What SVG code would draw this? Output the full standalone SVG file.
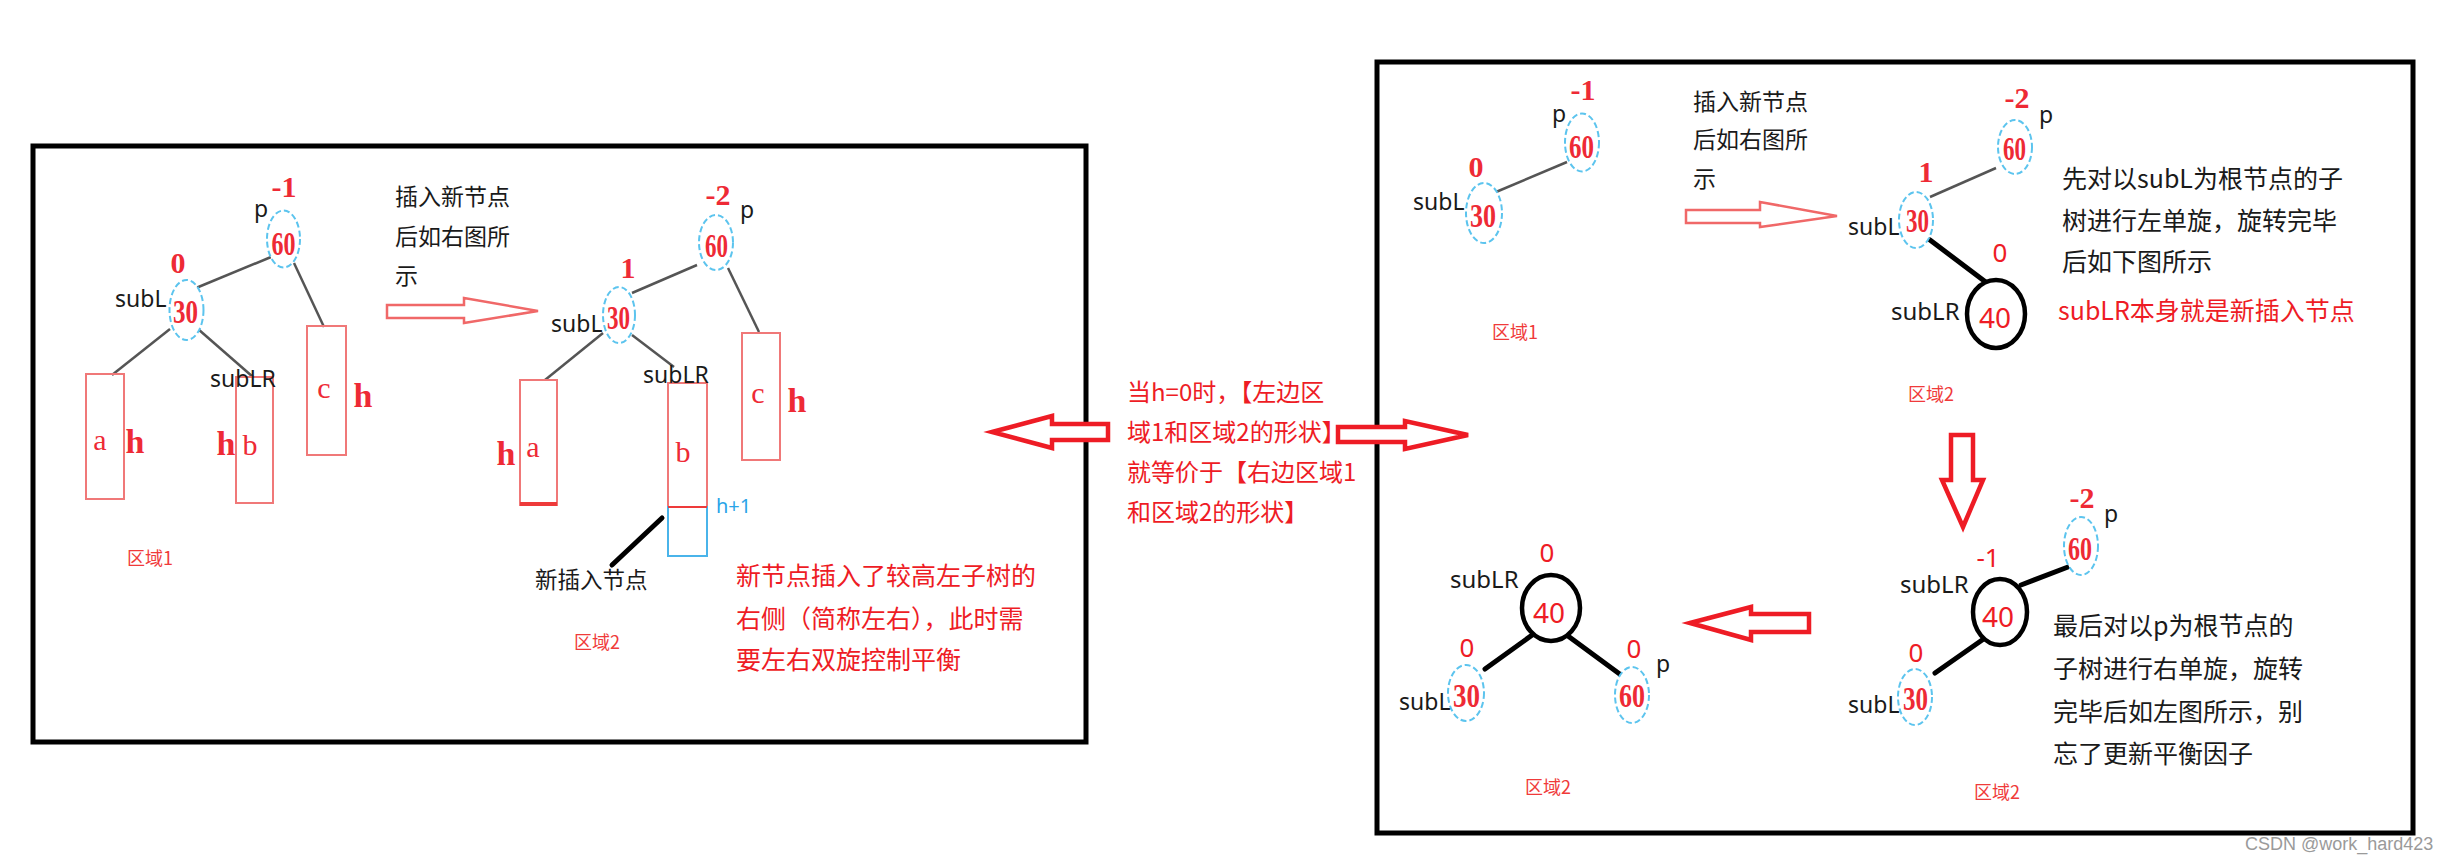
<svg xmlns="http://www.w3.org/2000/svg" width="2439" height="863" viewBox="0 0 2439 863">
<defs>
<style>
.frame{fill:none;stroke:#000;stroke-width:5}
.dash{fill:#fff;stroke:#5cc4ee;stroke-width:2;stroke-dasharray:6 3}
.ring{fill:#fff;stroke:#000;stroke-width:4.5}
.key{font-family:"Liberation Serif",serif;fill:#ee2a35;font-size:34px;font-weight:bold;text-anchor:middle}
.bf{font-family:"Liberation Serif",serif;fill:#ee2a35;font-size:30px;font-weight:bold;text-anchor:middle}
.bfs{font-family:"Noto Sans","Liberation Sans",sans-serif;fill:#ee1c25;font-size:26px;text-anchor:middle}
.k40{font-family:"Noto Sans","Liberation Sans",sans-serif;fill:#ee1c25;font-size:28px;text-anchor:middle}
.lab{font-family:"Noto Sans","Liberation Sans",sans-serif;fill:#1a1a1a;font-size:23px}
.lab2{font-family:"Noto Sans","Liberation Sans",sans-serif;fill:#1a1a1a;font-size:24px}
.let{font-family:"Liberation Serif",serif;fill:#ee2a35;font-size:30px;text-anchor:middle}
.hh{font-family:"Liberation Serif",serif;fill:#ee2a35;font-size:34px;font-weight:bold;text-anchor:middle}
.cn{font-family:"Noto Sans CJK SC",sans-serif;fill:#1a1a1a}
.cr{font-family:"Noto Sans CJK SC",sans-serif;fill:#ee1c25}
.area{font-family:"Noto Sans CJK SC",sans-serif;fill:#f03a3a;font-size:18px}
.box{fill:none;stroke:#f07878;stroke-width:2}
.gl{stroke:#555;stroke-width:2.5;fill:none}
.bl{stroke:#000;stroke-width:5;fill:none;stroke-linecap:round}
.harr{fill:#fff;stroke:#f06868;stroke-width:2.5}
.barr{fill:#fff;stroke:#ee1c25;stroke-width:4.5;stroke-linejoin:miter}
</style>
</defs>
<rect width="2439" height="863" fill="#fff"/>

<!-- frames -->
<rect class="frame" x="33" y="146" width="1053" height="596"/>
<rect class="frame" x="1377" y="62" width="1036" height="771"/>

<!-- connectors -->
<g id="connectors">
  <line class="gl" x1="196" y1="288" x2="271" y2="257"/>
  <line class="gl" x1="294" y1="263" x2="324" y2="327"/>
  <line class="gl" x1="170" y1="329" x2="112" y2="375"/>
  <line class="gl" x1="198" y1="329" x2="253" y2="377"/>
  <line class="gl" x1="632" y1="293" x2="697" y2="265"/>
  <line class="gl" x1="728" y1="268" x2="759" y2="332"/>
  <line class="gl" x1="603" y1="333" x2="545" y2="380"/>
  <line class="gl" x1="632" y1="335" x2="674" y2="367"/>
  <line class="bl" x1="662" y1="518" x2="612" y2="565"/>
  <line class="gl" x1="1496" y1="192" x2="1567" y2="162"/>
  <line class="gl" x1="1930" y1="197" x2="1996" y2="168"/>
  <line class="bl" x1="1930" y1="240" x2="1987" y2="283"/>
  <line class="bl" x1="2021" y1="585" x2="2068" y2="567"/>
  <line class="bl" x1="1985" y1="638" x2="1935" y2="673"/>
  <line class="bl" x1="1535" y1="633" x2="1485" y2="669"/>
  <line class="bl" x1="1568" y1="636" x2="1621" y2="675"/>
</g>

<!-- ===== left panel, region 1 ===== -->
<g id="l1-p">
  <ellipse class="dash" cx="283.5" cy="239" rx="16.5" ry="28.5"/>
  <text class="key" x="283.5" y="255" textLength="24" lengthAdjust="spacingAndGlyphs">60</text>
  <text class="bf" x="284" y="197">-1</text>
  <text class="lab" x="254" y="217">p</text>
</g>
<g id="l1-subL">
  <ellipse class="dash" cx="186.5" cy="310" rx="17" ry="30"/>
  <text class="key" x="185.5" y="323" textLength="25" lengthAdjust="spacingAndGlyphs">30</text>
  <text class="bf" x="178" y="273">0</text>
  <text class="lab" x="115" y="307">subL</text>
</g>
<g id="l1-a">
  <rect class="box" x="86" y="374" width="38" height="125"/>
  <text class="let" x="100" y="450">a</text>
  <text class="hh" x="135" y="453">h</text>
</g>
<g id="l1-b">
  <rect class="box" x="236" y="377" width="37" height="126"/>
  <text class="let" x="250" y="455">b</text>
  <text class="hh" x="226" y="455">h</text>
  <text class="lab" x="210" y="387">subLR</text>
</g>
<g id="l1-c">
  <rect class="box" x="307" y="326" width="39" height="129"/>
  <text class="let" x="324" y="398">c</text>
  <text class="hh" x="363" y="407">h</text>
</g>
<text class="area" x="127" y="565">区域1</text>

<g id="l-note1">
  <text class="cn" font-size="23" x="395" y="205">插入新节点</text>
  <text class="cn" font-size="23" x="395" y="245">后如右图所</text>
  <text class="cn" font-size="23" x="395" y="284">示</text>
  <path class="harr" d="M387,305 L464,305 L464,298 L538,311 L464,323 L464,318 L387,318 Z"/>
</g>

<!-- ===== left panel, region 2 ===== -->
<g id="l2-p">
  <ellipse class="dash" cx="716" cy="242.5" rx="17" ry="27.5"/>
  <text class="key" x="716.5" y="257" textLength="23" lengthAdjust="spacingAndGlyphs">60</text>
  <text class="bf" x="718" y="205">-2</text>
  <text class="lab" x="740" y="218">p</text>
</g>
<g id="l2-subL">
  <ellipse class="dash" cx="619" cy="315" rx="16" ry="28"/>
  <text class="key" x="618.5" y="329" textLength="23" lengthAdjust="spacingAndGlyphs">30</text>
  <text class="bf" x="628" y="278">1</text>
  <text class="lab" x="551" y="332">subL</text>
</g>
<g id="l2-a">
  <rect class="box" x="520" y="380" width="37" height="125"/>
  <line x1="520" y1="504" x2="557" y2="504" stroke="#ee3a3a" stroke-width="4"/>
  <text class="let" x="533" y="457">a</text>
  <text class="hh" x="506" y="465">h</text>
</g>
<g id="l2-b">
  <rect class="box" x="668" y="383" width="39" height="124"/>
  <rect x="668" y="507" width="39" height="49" fill="none" stroke="#4ab4ea" stroke-width="2"/>
  <line x1="668" y1="507" x2="707" y2="507" stroke="#ee3a3a" stroke-width="2"/>
  <text class="let" x="683" y="462">b</text>
  <text class="lab" x="643" y="383">subLR</text>
  <text x="716" y="513" font-family="Noto Sans, Liberation Sans, sans-serif" font-size="20" fill="#2aa4e8">h+1</text>
</g>
<g id="l2-c">
  <rect class="box" x="742" y="333" width="38" height="127"/>
  <text class="let" x="758" y="403">c</text>
  <text class="hh" x="797" y="412">h</text>
</g>
<text class="cn" font-size="22.5" x="535" y="588">新插入节点</text>
<text class="area" x="574" y="649">区域2</text>
<g id="l-note2">
  <text class="cr" font-size="25" x="736" y="585">新节点插入了较高左子树的</text>
  <text class="cr" font-size="25" x="736" y="628">右侧（简称左右），此时需</text>
  <text class="cr" font-size="25" x="736" y="669">要左右双旋控制平衡</text>
</g>

<!-- ===== middle ===== -->
<g id="mid-note">
  <text class="cr" font-size="24" x="1127" y="401">当h=0时，【左边区</text>
  <text class="cr" font-size="24" x="1127" y="441">域1和区域2的形状】</text>
  <text class="cr" font-size="24" x="1127" y="481">就等价于【右边区域1</text>
  <text class="cr" font-size="24" x="1127" y="521">和区域2的形状】</text>
</g>
<path id="arrow-left" class="barr" d="M992,432 L1052,416 L1052,424 L1108,424 L1108,440 L1052,440 L1052,448 Z"/>
<path id="arrow-right" class="barr" d="M1338,427 L1405,427 L1405,421 L1468,435 L1405,449 L1405,442 L1338,442 Z"/>

<!-- ===== right panel, region 1 ===== -->
<g id="r1-p">
  <ellipse class="dash" cx="1582" cy="142.5" rx="17" ry="29"/>
  <text class="key" x="1581.5" y="158" textLength="25" lengthAdjust="spacingAndGlyphs">60</text>
  <text class="bf" x="1583" y="100" font-size="28">-1</text>
  <text class="lab" x="1552" y="122">p</text>
</g>
<g id="r1-subL">
  <ellipse class="dash" cx="1484" cy="213" rx="18" ry="30"/>
  <text class="key" x="1483" y="227" textLength="26" lengthAdjust="spacingAndGlyphs">30</text>
  <text class="bf" x="1476" y="177">0</text>
  <text class="lab" x="1413" y="210">subL</text>
</g>
<text class="area" x="1492" y="339">区域1</text>
<g id="r-note1">
  <text class="cn" font-size="23" x="1693" y="110">插入新节点</text>
  <text class="cn" font-size="23" x="1693" y="148">后如右图所</text>
  <text class="cn" font-size="23" x="1693" y="187">示</text>
  <path class="harr" d="M1686,210 L1760,210 L1760,202 L1837,216 L1760,227 L1760,223 L1686,223 Z"/>
</g>

<!-- ===== right panel, region 2 (top) ===== -->
<g id="r2-p">
  <ellipse class="dash" cx="2015" cy="147" rx="17" ry="27"/>
  <text class="key" x="2014.5" y="160" textLength="23" lengthAdjust="spacingAndGlyphs">60</text>
  <text class="bf" x="2017" y="108">-2</text>
  <text class="lab" x="2039" y="123">p</text>
</g>
<g id="r2-subL">
  <ellipse class="dash" cx="1916" cy="220" rx="17" ry="28"/>
  <text class="key" x="1917.5" y="232" textLength="23" lengthAdjust="spacingAndGlyphs">30</text>
  <text class="bf" x="1926" y="182">1</text>
  <text class="lab" x="1848" y="235">subL</text>
</g>
<g id="r2-subLR">
  <ellipse class="ring" cx="1996" cy="314" rx="29" ry="34"/>
  <text class="k40" x="1995" y="328">40</text>
  <text class="bfs" x="2000" y="262" font-size="24">0</text>
  <text class="lab2" x="1891" y="320">subLR</text>
</g>
<text class="area" x="1908" y="401">区域2</text>
<g id="r-note2">
  <text class="cn" font-size="25" x="2062" y="188">先对以subL为根节点的子</text>
  <text class="cn" font-size="25" x="2062" y="230">树进行左单旋，旋转完毕</text>
  <text class="cn" font-size="25" x="2062" y="271">后如下图所示</text>
  <text class="cr" font-size="25" x="2058" y="320">subLR本身就是新插入节点</text>
</g>
<path id="arrow-down" class="barr" d="M1951,435 L1973,435 L1973,480 L1983,480 L1963,527 L1942,480 L1951,480 Z"/>

<!-- ===== right panel, region 2 (bottom right) ===== -->
<g id="r3-p">
  <ellipse class="dash" cx="2081" cy="546" rx="17" ry="29"/>
  <text class="key" x="2080" y="560" textLength="24" lengthAdjust="spacingAndGlyphs">60</text>
  <text class="bf" x="2082" y="508">-2</text>
  <text class="lab" x="2104" y="522">p</text>
</g>
<g id="r3-subLR">
  <ellipse class="ring" cx="2000" cy="612" rx="27" ry="33"/>
  <text class="k40" x="1998" y="627">40</text>
  <text class="bfs" x="1988" y="567">-1</text>
  <text class="lab2" x="1900" y="593">subLR</text>
</g>
<g id="r3-subL">
  <ellipse class="dash" cx="1915" cy="697" rx="17" ry="28"/>
  <text class="key" x="1915.5" y="710" textLength="25" lengthAdjust="spacingAndGlyphs">30</text>
  <text class="bfs" x="1916" y="662">0</text>
  <text class="lab" x="1848" y="713">subL</text>
</g>
<text class="area" x="1974" y="799">区域2</text>
<g id="r-note3">
  <text class="cn" font-size="25" x="2053" y="635">最后对以p为根节点的</text>
  <text class="cn" font-size="25" x="2053" y="678">子树进行右单旋，旋转</text>
  <text class="cn" font-size="25" x="2053" y="721">完毕后如左图所示，别</text>
  <text class="cn" font-size="25" x="2053" y="763">忘了更新平衡因子</text>
</g>
<path id="arrow-left2" class="barr" d="M1690,623 L1751,607 L1751,614 L1809,614 L1809,632 L1751,632 L1751,640 Z"/>

<!-- ===== right panel, region 2 (bottom left) ===== -->
<g id="r4-subLR">
  <ellipse class="ring" cx="1551" cy="608" rx="29" ry="33"/>
  <text class="k40" x="1549" y="623">40</text>
  <text class="bfs" x="1547" y="562">0</text>
  <text class="lab2" x="1450" y="588">subLR</text>
</g>
<g id="r4-subL">
  <ellipse class="dash" cx="1466" cy="693" rx="18" ry="28"/>
  <text class="key" x="1466.5" y="707" textLength="27" lengthAdjust="spacingAndGlyphs">30</text>
  <text class="bfs" x="1467" y="657">0</text>
  <text class="lab" x="1399" y="710">subL</text>
</g>
<g id="r4-p">
  <ellipse class="dash" cx="1632" cy="695" rx="17" ry="28"/>
  <text class="key" x="1632" y="707" textLength="26" lengthAdjust="spacingAndGlyphs">60</text>
  <text class="bfs" x="1634" y="658">0</text>
  <text class="lab" x="1656" y="672">p</text>
</g>
<text class="area" x="1525" y="794">区域2</text>

<text x="2245" y="850" font-family="Liberation Sans, sans-serif" font-size="18" fill="#9a9a9a">CSDN @work_hard423</text>
</svg>
